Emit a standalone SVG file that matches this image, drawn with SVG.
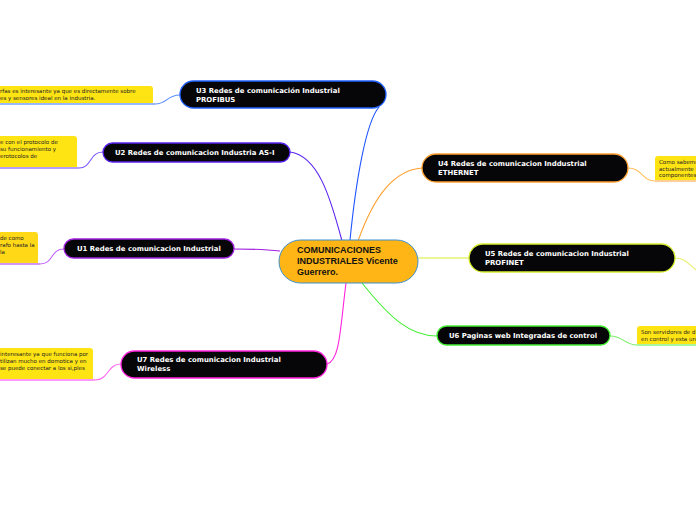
<svg xmlns="http://www.w3.org/2000/svg" width="696" height="520" viewBox="0 0 696 520">
<style>
.topic{fill:#060608;stroke-width:1.3}
.tt{font-family:"DejaVu Sans",Verdana,sans-serif;font-weight:bold;font-size:6.9px;fill:#ffffff}
.note{fill:#ffe414}
.nt{font-family:"DejaVu Sans",Verdana,sans-serif;font-size:5.5px;fill:#222222}
.con{fill:none;stroke-width:1.1}
.ct{font-family:"Liberation Sans",Arial,sans-serif;font-weight:bold;font-size:9px;fill:#111111}
</style>
<rect width="696" height="520" fill="#ffffff"/>
<g id="connectors">
<path class="con" stroke="#1f55ff" d="M350,240 C356,180 366,122 379,107"/>
<path class="con" stroke="#5a22f0" d="M342,241 C330,196 318,156 290,152"/>
<path class="con" stroke="#a020e0" d="M280,251 C262,249 250,249 234,249"/>
<path class="con" stroke="#ff22dd" d="M346,283 C340,330 340,360 327,364"/>
<path class="con" stroke="#ffa030" d="M358,241 C374,196 394,170 422,168"/>
<path class="con" stroke="#d8ee30" d="M418,258 L469,258"/>
<path class="con" stroke="#44ee33" d="M362,283 C390,318 410,336 437,336"/>
<path class="con" stroke="#5a8cff" d="M180,95 C166,95 168,104 155,104"/>
<path class="con" stroke="#7a55ff" d="M103,152 C89,152 92,168 79,168"/>
<path class="con" stroke="#c060ff" d="M64,249 C50,249 54,264 40,264"/>
<path class="con" stroke="#ff66ee" d="M121,364 C107,364 109,380 95,380"/>
<path class="con" stroke="#ffc060" d="M628,168 C642,168 642,181 655,181"/>
<path class="con" stroke="#e8f070" d="M675,258 C688,258 690,268 700,272"/>
<path class="con" stroke="#77ee66" d="M610,336 C624,336 624,345 637,345"/>
</g>
<g id="central">
<rect x="279" y="240" width="139" height="43" rx="21.5" fill="#ffb515" stroke="#3a8fd0" stroke-width="1"/>
<text class="ct" x="297" y="253">COMUNICACIONES</text>
<text class="ct" x="297" y="264">INDUSTRIALES Vicente</text>
<text class="ct" x="297" y="275">Guerrero.</text>
</g>
<g id="u3">
<rect class="topic" x="180" y="81" width="206" height="27" rx="13.5" stroke="#2060ff"/>
<text class="tt" x="196" y="93">U3 Redes de comunicación Industrial</text>
<text class="tt" x="196" y="102">PROFIBUS</text>
</g>
<g id="note-u3">
<path class="note" d="M-5,86 H150 A3,3 0 0 1 153,89 V103 H-5 Z"/>
<line x1="0" y1="104" x2="155" y2="104" stroke="#3070ff" stroke-width="1.2"/>
<text class="nt" x="0" y="93">rfas es interesante ya que es directamente sobre</text>
<text class="nt" x="0" y="100">es y sensores ideal en la industria.</text>
</g>
<g id="u2">
<rect class="topic" x="103" y="143" width="187" height="19" rx="9.5" stroke="#5a22f0"/>
<text class="tt" x="115" y="155">U2 Redes de comunicacion Industria AS-I</text>
</g>
<g id="note-u2">
<path class="note" d="M-5,136 H74 A3,3 0 0 1 77,139 V167 H-5 Z"/>
<line x1="0" y1="168" x2="79" y2="168" stroke="#6a40ff" stroke-width="1.2"/>
<text class="nt" x="0" y="144">e con el protocolo de</text>
<text class="nt" x="0" y="151">su funcionamiento y</text>
<text class="nt" x="0" y="158">erotocolos de</text>
</g>
<g id="u1">
<rect class="topic" x="64" y="239" width="170" height="19" rx="9.5" stroke="#a020e0"/>
<text class="tt" x="77" y="251">U1 Redes de comunicacion Industrial</text>
</g>
<g id="note-u1">
<path class="note" style="fill:#ffd818" d="M-5,232 H35 A3,3 0 0 1 38,235 V263 H-5 Z"/>
<line x1="0" y1="264" x2="40" y2="264" stroke="#a030f0" stroke-width="1.2"/>
<text class="nt" x="0" y="240">de como</text>
<text class="nt" x="0" y="247">rafo hasta la</text>
<text class="nt" x="0" y="254">la</text>
</g>
<g id="u7">
<rect class="topic" x="121" y="351" width="206" height="27" rx="13.5" stroke="#ff22dd"/>
<text class="tt" x="137" y="362">U7 Redes de comunicacion Industrial</text>
<text class="tt" x="137" y="371">Wireless</text>
</g>
<g id="note-u7">
<path class="note" d="M-5,348 H90 A3,3 0 0 1 93,351 V379 H-5 Z"/>
<line x1="0" y1="380" x2="95" y2="380" stroke="#ff33ee" stroke-width="1.2"/>
<text class="nt" x="0" y="356">interesante ya que funciona por</text>
<text class="nt" x="0" y="363">tilizan mucho en domotica y en</text>
<text class="nt" x="0" y="370"> se puede conectar a los si,ples</text>
</g>
<g id="u4">
<rect class="topic" x="422" y="154" width="206" height="28" rx="14" stroke="#ffa030"/>
<text class="tt" x="438" y="166">U4 Redes de comunicacion Inddustrial</text>
<text class="tt" x="438" y="175">ETHERNET</text>
</g>
<g id="note-u4">
<path class="note" d="M655,159 A3,3 0 0 1 658,156 H700 V180 H655 Z"/>
<line x1="655" y1="181" x2="700" y2="181" stroke="#ffa030" stroke-width="1.2"/>
<text class="nt" x="659" y="164">Como sabemo</text>
<text class="nt" x="659" y="170.5">actualmente l</text>
<text class="nt" x="659" y="177">componentes</text>
</g>
<g id="u5">
<rect class="topic" x="469" y="244" width="206" height="28" rx="14" stroke="#d8ee30"/>
<text class="tt" x="485" y="256">U5 Redes de comunicacion Industrial</text>
<text class="tt" x="485" y="265">PROFINET</text>
</g>
<g id="u6">
<rect class="topic" x="437" y="326" width="173" height="19" rx="9.5" stroke="#44ee33"/>
<text class="tt" x="449" y="338">U6 Paginas web Integradas de control</text>
</g>
<g id="note-u6">
<path class="note" d="M637,329 A3,3 0 0 1 640,326 H700 V344 H637 Z"/>
<line x1="637" y1="345" x2="700" y2="345" stroke="#55ee44" stroke-width="1.2"/>
<text class="nt" x="641" y="333.5">Son servidores de d</text>
<text class="nt" x="641" y="340.5">en control y esta un</text>
</g>
</svg>
